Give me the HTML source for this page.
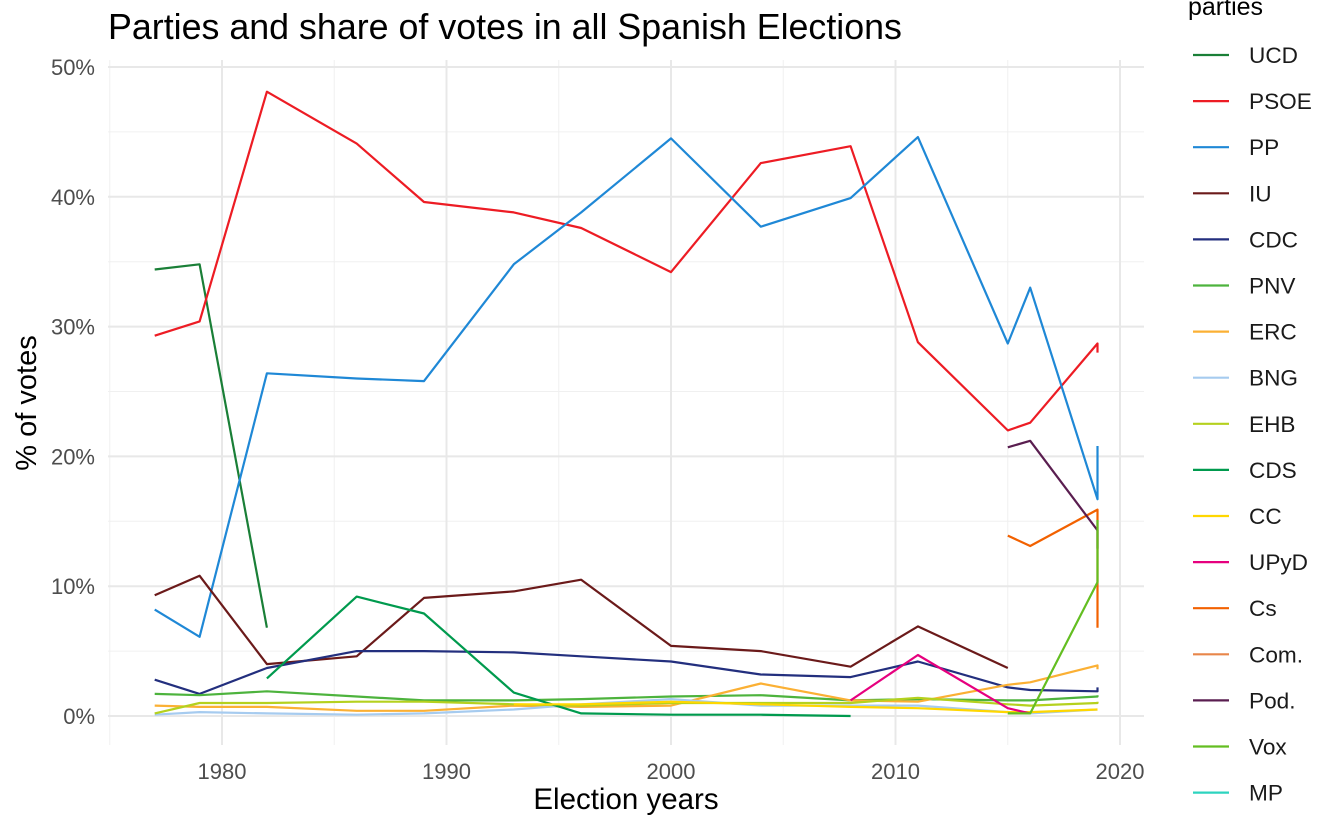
<!DOCTYPE html>
<html><head><meta charset="utf-8"><style>
body{margin:0;background:#fff;font-family:"Liberation Sans",sans-serif}
</style></head><body>
<svg id="c" width="1344" height="830" xmlns="http://www.w3.org/2000/svg"></svg>
<script>
const years=[1977,1979,1982,1986,1989,1993,1996,2000,2004,2008,2011,2015,2016,2019,2019];
const parties=["UCD","PSOE","PP","IU","CDC","PNV","ERC","BNG","EHB","CDS","CC","UPyD","Cs","Com.","Pod.","Vox","MP"];
const colors=["#1a7f37","#ed1c24","#1f88d6","#6b1a1a","#232f7e","#4db33d","#fbb034","#a6cbef","#b5d11e","#009a4e","#ffd700","#e6007e","#f26100","#e8864a","#5a1e50","#63be21","#2dd4bf"];
const UCD=[34.4,34.8,6.8,null,null,null,null,null,null,null,null,null,null,null,null];
const PSOE=[29.3,30.4,48.1,44.1,39.6,38.8,37.6,34.2,42.6,43.9,28.8,22.0,22.6,28.7,28.0];
const PP=[8.2,6.1,26.4,26.0,25.8,34.8,38.8,44.5,37.7,39.9,44.6,28.7,33.0,16.7,20.8];
const IU=[9.3,10.8,4.0,4.6,9.1,9.6,10.5,5.4,5.0,3.8,6.9,3.7,null,null,null];
const CDC=[2.8,1.7,3.7,5.0,5.0,4.9,4.6,4.2,3.2,3.0,4.2,2.2,2.0,1.9,2.2];
const PNV=[1.7,1.6,1.9,1.5,1.2,1.2,1.3,1.5,1.6,1.2,1.3,1.2,1.2,1.5,1.6];
const ERC=[0.8,0.7,0.7,0.4,0.4,0.8,0.7,0.8,2.5,1.2,1.1,2.4,2.6,3.9,3.6];
const BNG=[0.1,0.3,0.2,0.1,0.2,0.5,0.9,1.3,0.8,0.8,0.8,0.3,0.2,0.5,0.5];
const EHB=[0.2,1.0,1.0,1.1,1.1,0.9,0.8,1.0,1.0,1.0,1.4,0.9,0.8,1.0,1.1];
const CDS=[null,null,2.9,9.2,7.9,1.8,0.2,0.1,0.1,0.0,null,null,null,null,null];
const CC=[null,null,null,null,null,0.9,0.9,1.1,0.9,0.7,0.6,0.3,0.3,0.5,0.5];
const UPyD=[null,null,null,null,null,null,null,null,null,1.2,4.7,0.6,0.2,null,null];
const Cs=[null,null,null,null,null,null,null,null,null,null,null,13.9,13.1,15.9,6.8];
const Com=[null,null,null,null,null,null,null,null,null,null,null,null,null,null,null];
const Pod=[null,null,null,null,null,null,null,null,null,null,null,20.7,21.2,14.3,12.9];
const Vox=[null,null,null,null,null,null,null,null,null,null,null,0.2,0.2,10.3,15.1];
const MP=[null,null,null,null,null,null,null,null,null,null,null,null,null,0.1,0.1];
const series=[UCD,PSOE,PP,IU,CDC,PNV,ERC,BNG,EHB,CDS,CC,UPyD,Cs,Com,Pod,Vox,MP];
const yTicks=[0,10,20,30,40,50];
const xTicks=[1980,1990,2000,2010,2020];

const svg=document.getElementById('c');const NS="http://www.w3.org/2000/svg";
const L=108,R=1144,T=60,B=745;
const x=v=>222+(v-1980)*22.45;
const y=v=>716-v*12.98;
function el(t,a,p){const e=document.createElementNS(NS,t);for(const k in a)e.setAttribute(k,a[k]);(p||svg).appendChild(e);return e;}
for(let v=5;v<50;v+=10){const g=el('line',{x1:L,x2:R,y1:y(v),y2:y(v),stroke:'#f0f0f0','stroke-width':1});
}
for(let v=1975;v<=2015;v+=10){const g=el('line',{x1:x(v),x2:x(v),y1:T,y2:B,stroke:'#f0f0f0','stroke-width':1});
}
yTicks.forEach(v=>{const g=el('line',{x1:L,x2:R,y1:y(v),y2:y(v),stroke:'#e8e8e8','stroke-width':2});

const t=el('text',{x:95,y:y(v)+8,'text-anchor':'end','font-size':22,fill:'#4d4d4d'});t.textContent=v+'%';
});
xTicks.forEach(v=>{const g=el('line',{x1:x(v),x2:x(v),y1:T,y2:B,stroke:'#e8e8e8','stroke-width':2});

const t=el('text',{x:x(v),y:779,'text-anchor':'middle','font-size':22,fill:'#4d4d4d'});t.textContent=v;
});
series.forEach((s,i)=>{let d='',pen=false;
s.forEach((v,j)=>{if(v===null){pen=false;return;}d+=(pen?'L':'M')+x(years[j]).toFixed(1)+','+y(v).toFixed(1);pen=true;});
if(!d)return;const p=el('path',{d:d,fill:'none',stroke:colors[i],'stroke-width':2.2,'stroke-linejoin':'round'});
});
let t=el('text',{x:108,y:39,'font-size':35.8,fill:'#000'});t.textContent='Parties and share of votes in all Spanish Elections';

t=el('text',{x:626,y:809,'text-anchor':'middle','font-size':29.5,fill:'#000'});t.textContent='Election years';

t=el('text',{x:0,y:0,'text-anchor':'middle','font-size':29,fill:'#000',transform:'translate(36,403) rotate(-90)'});t.textContent='% of votes';

t=el('text',{x:1188,y:15,'font-size':25,fill:'#000'});t.textContent='parties';

parties.forEach((p,i)=>{const yy=55+i*46.1;
const g=el('g',{});
el('line',{x1:1193,x2:1229,y1:yy,y2:yy,stroke:colors[i],'stroke-width':2.2},g);
const tx=el('text',{x:1249,y:yy+8,'font-size':22.6,fill:'#1a1a1a'},g);tx.textContent=p;});
</script>
</body></html>
